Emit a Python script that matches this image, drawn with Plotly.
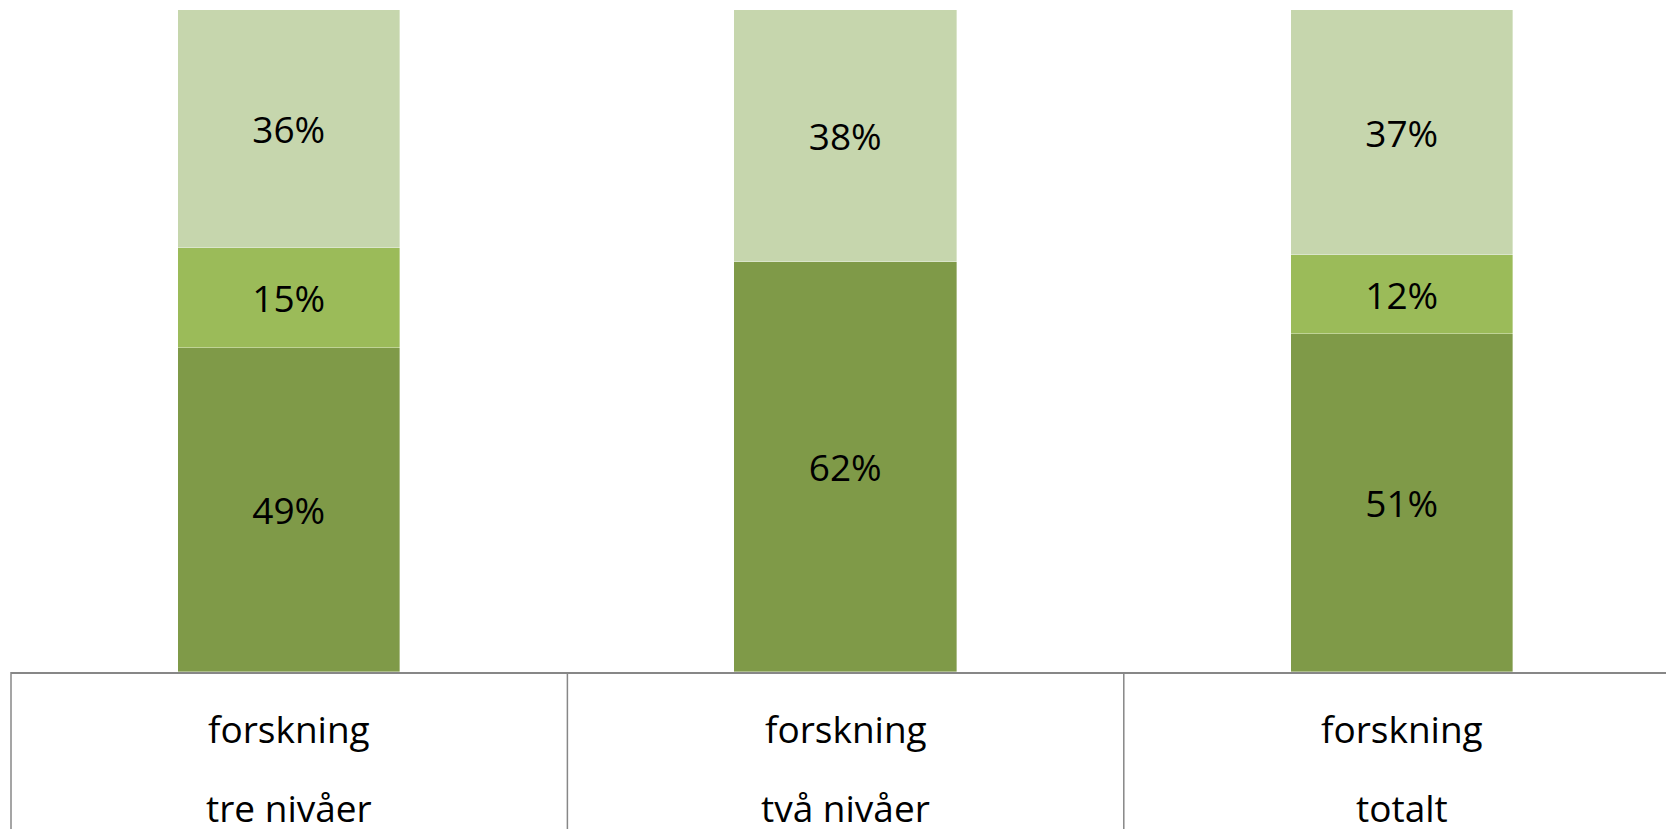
import plotly.graph_objects as go

categories_line1 = ["forskning", "forskning", "forskning"]
categories_line2 = ["tre nivåer", "två nivåer", "totalt"]
series_bottom = [49, 62, 51]
series_middle = [15, 0, 12]
series_top = [36, 38, 37]

colors = ["#7F9A48", "#9BBB59", "#C6D6AD"]
FONT = "Open Sans"
FS = 37

x_idx = [0, 1, 2]
x_range = [-0.5, 2.4745]
span = x_range[1] - x_range[0]

fig = go.Figure()
for vals, col in zip([series_bottom, series_middle, series_top], colors):
    fig.add_trace(go.Bar(
        x=x_idx, y=vals, width=0.4,
        marker=dict(color=col, line=dict(color="rgba(255,255,255,0.6)", width=0.6)),
        text=[f"{v}%" if v > 0 else "" for v in vals],
        textposition="inside", insidetextanchor="middle",
        textfont=dict(family=FONT, size=FS, color="black"),
        constraintext="none",
        hoverinfo="skip", showlegend=False,
    ))

shapes = []
for i in range(4):
    px = (i - 0.5 - x_range[0]) / span
    shapes.append(dict(type="line", xref="paper", yref="paper",
                       x0=px, x1=px, y0=0, y1=-0.35,
                       line=dict(color="#878787", width=1.5)))

annotations = []
for i, (l1, l2) in enumerate(zip(categories_line1, categories_line2)):
    annotations.append(dict(x=x_idx[i], y=-0.0857, xref="x", yref="paper",
                            text=l1, showarrow=False, yanchor="middle",
                            font=dict(family=FONT, size=FS, color="black")))
    annotations.append(dict(x=x_idx[i], y=-0.204, xref="x", yref="paper",
                            text=l2, showarrow=False, yanchor="middle",
                            font=dict(family=FONT, size=FS, color="black")))

fig.update_layout(
    width=1666, height=829,
    margin=dict(l=10.7, r=0, t=10, b=157),
    barmode="stack", bargap=0,
    paper_bgcolor="white", plot_bgcolor="white",
    xaxis=dict(range=x_range, showticklabels=False, showgrid=False, zeroline=False,
               showline=True, linecolor="#878787", linewidth=1.5, ticks="", fixedrange=True),
    yaxis=dict(range=[0, 100], visible=False, fixedrange=True),
    shapes=shapes, annotations=annotations,
)

fig.write_html("out.html", config={"displayModeBar": False})

with open("out.html", "r", encoding="utf-8") as f:
    html = f.read()
html = html.replace("<head>", "<head><style>html,body{margin:0;padding:0;overflow:hidden;}</style>", 1)
with open("out.html", "w", encoding="utf-8") as f:
    f.write(html)
